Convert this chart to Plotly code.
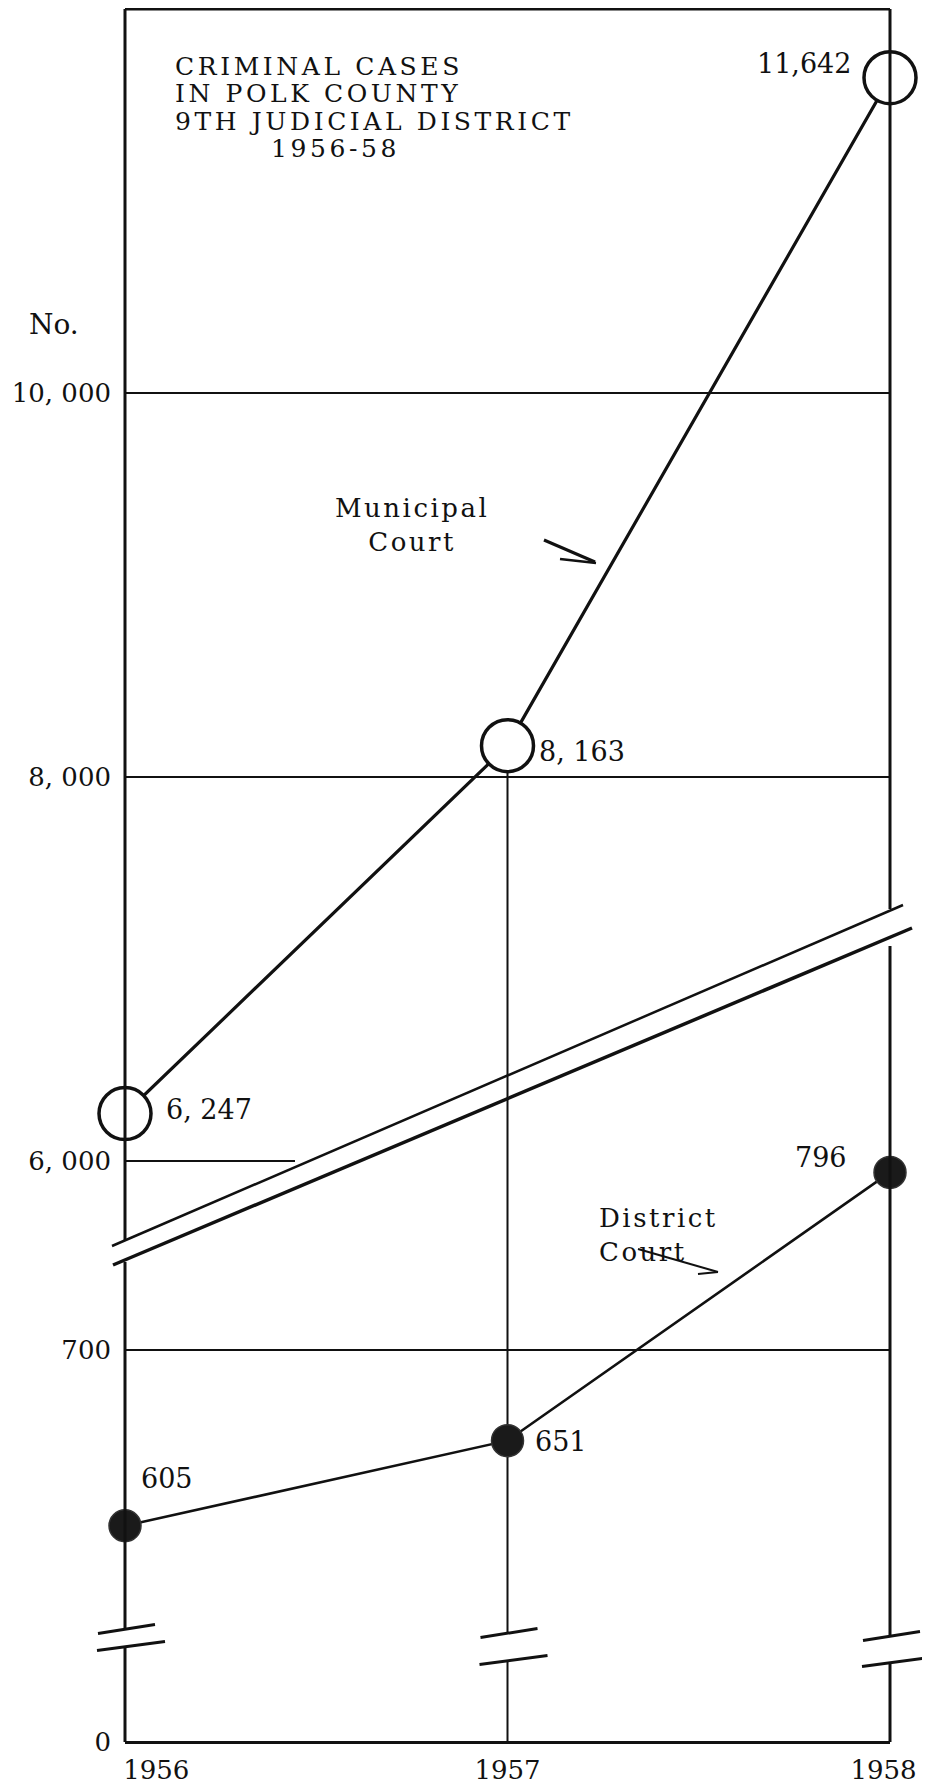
import plotly.graph_objects as go

# ---------------- data ----------------
years = [1956, 1957, 1958]
municipal = [6247, 8163, 11642]
district = [605, 651, 796]
municipal_text = ["6, 247", "8, 163", "11,642"]
district_text = ["605", "651", "796"]
upper_ticks = [6000, 8000, 10000]
upper_ticktext = ["6, 000", "8, 000", "10, 000"]
lower_ticks = [700]
lower_ticktext = ["700"]
zero_ticks = [0]
zero_ticktext = ["0"]
year_ticktext = ["\u2007\u2007\u2007\u20021956", "1957", "1958\u2002"]
title_lines = ["CRIMINAL CASES", "IN POLK COUNTY", "9TH JUDICIAL DISTRICT", "1956-58"]

# ---------------- layout geometry (screen pixels) ----------------
W, H = 930, 1785
S = 8                      # page body margin offset
L, R, T, B = 125, 890, 9, 1742
PW, PH = R - L, B - T
FW, FH = W - S, H - S
SERIF = "DejaVu Serif"
INK = "#111111"


def px(x):
    return (x - L) / PW


def py(y):
    return (B - y) / PH


def xp(yr):
    return (yr - years[0]) / (years[-1] - years[0])


UP_TOP = 12000
UP_SCALE = 0.192
UP_BOTTOM_PX = 1250
up_range = [UP_TOP - (UP_BOTTOM_PX - T) / UP_SCALE, UP_TOP]
up_domain = [py(UP_BOTTOM_PX), 1]

LO_REF, LO_REF_PX, LO_SCALE, LO_TOP_PX = 700, 1350, 1.85, 950
lo_range = [LO_REF - (B - LO_REF_PX) / LO_SCALE, LO_REF + (LO_REF_PX - LO_TOP_PX) / LO_SCALE]
lo_domain = [0, py(LO_TOP_PX)]


def up_paper(v):
    return up_domain[0] + (v - up_range[0]) / (up_range[1] - up_range[0]) * (up_domain[1] - up_domain[0])


fig = go.Figure()

fig.add_trace(go.Scatter(
    x=years, y=municipal, yaxis="y", mode="lines+markers",
    line=dict(color=INK, width=3.2),
    marker=dict(size=52, color="white", line=dict(color=INK, width=3.5)),
    cliponaxis=False, showlegend=False, hoverinfo="skip"))

fig.add_trace(go.Scatter(
    x=years, y=district, yaxis="y2", mode="lines+markers",
    line=dict(color=INK, width=2.6),
    marker=dict(size=32, color="#1a1a1a", line=dict(color="#333", width=1.5)),
    cliponaxis=False, showlegend=False, hoverinfo="skip"))

fig.add_trace(go.Scatter(x=[], y=[], yaxis="y3", showlegend=False))

shapes = []


def seg(x0, y0, x1, y1, w=2, layer="above", xref="paper", yref="paper"):
    shapes.append(dict(type="line", xref=xref, yref=yref, x0=x0, y0=y0, x1=x1, y1=y1,
                       line=dict(color=INK, width=w), layer=layer))


# horizontal grid lines of the upper panel
seg(0, 10000, 1, 10000, 2, "below", "paper", "y")
seg(0, 8000, 1, 8000, 2, "below", "paper", "y")
seg(0, 6000, px(295), 6000, 2, "below", "paper", "y")

# top border
seg(0, py(T), 1, py(T), 3)

# left border (1956)
seg(xp(years[0]), py(T), xp(years[0]), py(1241), 3)
seg(xp(years[0]), py(1262), xp(years[0]), py(1629), 3)
seg(xp(years[0]), py(1646), xp(years[0]), py(B), 3)
# 1957 vertical (starts under the 8,163 circle)
seg(xp(years[1]), up_paper(municipal[1]), xp(years[1]), py(1633), 2, "below")
seg(xp(years[1]), py(1660), xp(years[1]), py(B), 2, "below")
# right border (1958)
seg(xp(years[2]), py(T), xp(years[2]), py(909), 3)
seg(xp(years[2]), py(946), xp(years[2]), py(1636), 3)
seg(xp(years[2]), py(1662), xp(years[2]), py(B), 3)

# diagonal scale break
seg(px(112), py(1246), px(903), py(905), 2.5)
seg(px(113), py(1265), px(912), py(928), 3.5)

# short break marks on each vertical
for yr, ya, yb in [(years[0], 1629, 1646), (years[1], 1633, 1660), (years[2], 1636, 1662)]:
    for yy, a, b in [(ya, -27, 30), (yb, -28, 40)]:
        shapes.append(dict(type="line", xref="paper", yref="paper", xsizemode="pixel", ysizemode="pixel",
                           xanchor=xp(yr), yanchor=py(yy), x0=a, x1=b, y0=-4.5, y1=4.5,
                           line=dict(color=INK, width=3), layer="above"))

# pointer strokes
seg(px(544), py(540), px(595), py(562), 3)
seg(px(560), py(559), px(596), py(563), 2.5)
seg(px(638), py(1249), px(718), py(1272), 2)
seg(px(698), py(1274), px(718), py(1272), 2)

annotations = []


def note(text, x, y, size=27, xanchor="center", yanchor="middle", xref="paper", yref="paper",
         xshift=0, yshift=0, align="center"):
    annotations.append(dict(text=text, x=x, y=y, xref=xref, yref=yref, xanchor=xanchor,
                            yanchor=yanchor, xshift=xshift, yshift=yshift, showarrow=False,
                            align=align, borderpad=0,
                            font=dict(family=SERIF, size=size, color=INK)))


ls = '<span style="letter-spacing:3.6px">{}</span>'
note(ls.format(title_lines[0]), px(174), py(67), 25, "left")
note(ls.format(title_lines[1]), px(174), py(94), 25, "left")
note(ls.format(title_lines[2]), px(174), py(121), 25, "left")
note(ls.format(title_lines[3]), px(270), py(148), 25, "left")

note("No.", px(54), py(324), 28)

ls2 = '<span style="letter-spacing:2.5px">{}</span>'
note(ls2.format("Municipal") + "<br>" + ls2.format("Court"), px(412), py(525), 26)
note(ls2.format("District") + "<br>" + ls2.format("Court"), px(598), py(1235), 26, "left", align="left")

# value labels
note(municipal_text[0], years[0], municipal[0], 27, "left", "middle", "x", "y", 40, 4)
note(municipal_text[1], years[1], municipal[1], 27, "left", "middle", "x", "y", 30, -6)
note(municipal_text[2], years[2], municipal[2], 27, "right", "middle", "x", "y", -38, 14)
note(district_text[0], years[0], district[0], 27, "left", "middle", "x", "y2", 15, 47)
note(district_text[1], years[1], district[1], 27, "left", "middle", "x", "y2", 26, -1)
note(district_text[2], years[2], district[2], 27, "right", "middle", "x", "y2", -42, 15)

tick_font = dict(family=SERIF, size=26, color=INK)

fig.update_layout(
    width=FW, height=FH,
    margin=dict(l=L - S, r=FW - (R - S), t=T - S, b=FH - (B - S), autoexpand=False),
    paper_bgcolor="white", plot_bgcolor="rgba(0,0,0,0)",
    showlegend=False,
    xaxis=dict(range=[years[0], years[-1]], domain=[0, 1], anchor="free", position=0,
               tickvals=years, ticktext=year_ticktext, ticks="", showgrid=False, zeroline=False,
               showline=True, linecolor=INK, linewidth=3, tickfont=dict(family=SERIF, size=26, color=INK),
               ticklabelstandoff=4, automargin=False),
    yaxis=dict(domain=up_domain, range=up_range, anchor="x", tickvals=upper_ticks,
               ticktext=upper_ticktext, ticks="", showgrid=False, zeroline=False, showline=False,
               tickfont=tick_font, ticklabelstandoff=13, automargin=False),
    yaxis2=dict(domain=lo_domain, range=lo_range, anchor="x", tickvals=lower_ticks,
                ticktext=lower_ticktext, ticks="", showgrid=True, gridcolor=INK, gridwidth=2,
                zeroline=False, showline=False, tickfont=tick_font, ticklabelstandoff=13,
                automargin=False),
    yaxis3=dict(domain=[0, 0.02], range=[0, 1], anchor="x", tickvals=zero_ticks,
                ticktext=zero_ticktext, ticks="", showgrid=False, zeroline=False, showline=False,
                tickfont=tick_font, ticklabelstandoff=13, automargin=False),
    shapes=shapes,
    annotations=annotations,
)

fig.write_html("out.html")
